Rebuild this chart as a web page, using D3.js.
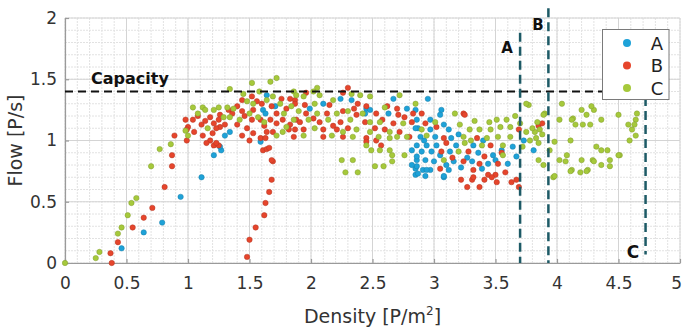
<!DOCTYPE html>
<html>
<head>
<meta charset="utf-8">
<script src="https://cdn.jsdelivr.net/npm/d3@7"></script>
<style>
  body { margin: 0; background: #fff; }
  svg { display: block; font-family: "DejaVu Sans", sans-serif; }
</style>
</head>
<body>
<div id="flow_plot"></div>
<script>
// data: [density, flow]
const pointsA = [
  [0.46,0.12],[0.64,0.25],[0.79,0.33],[0.94,0.54],[1.11,0.70],[1.21,0.88],[1.27,0.92],
  [1.30,1.04],[1.26,0.95],[1.34,1.07],[1.61,1.25],[1.63,1.22],[1.64,1.37],[1.71,1.28],[1.59,0.99],
  [1.99,1.26],[2.10,1.30],[2.24,1.34],[2.33,1.33],[2.45,1.26],[2.44,1.22],[2.48,1.25],[2.63,1.22],
  [2.67,1.34],[2.78,1.26],[2.85,1.25],[2.87,1.10],[2.95,1.34],[3.06,1.25],[3.05,1.21],
  [2.86,1.17],[2.97,1.17],[2.85,1.10],[2.97,1.09],[3.08,1.13],[3.12,1.09],[2.89,1.03],[3.01,1.03],
  [3.14,1.02],[3.73,1.00],[2.86,0.96],[2.94,0.96],[3.02,0.96],[3.18,0.96],[3.32,0.96],[3.64,0.95],
  [2.90,0.91],[2.98,0.91],[3.13,0.91],[3.36,0.90],[3.48,0.88],[3.67,0.87],[2.86,0.84],[2.93,0.84],
  [3.00,0.83],[3.16,0.83],[3.31,0.83],[3.44,0.81],[3.60,0.81],[2.85,0.77],[2.91,0.76],[2.97,0.76],
  [3.12,0.76],[3.39,0.77],[2.85,0.72],[3.08,0.70],[2.86,0.87],[2.86,0.79],[2.87,0.73],[2.93,0.71],
  [3.08,0.71],[2.94,0.76],[3.81,0.92],[3.20,1.05],[3.05,0.88],[3.27,0.86],[3.55,0.92],[3.40,1.00],
  [2.92,1.00],[3.10,0.80],[3.22,0.78],[3.50,0.84],[2.82,0.92],[2.82,0.80]
];
const pointsB = [
  [0.38,0.00],[0.37,0.08],[0.43,0.17],[0.55,0.29],[0.64,0.37],[0.71,0.45],[0.81,0.62],[0.87,0.79],
  [0.87,0.88],[0.89,1.04],[0.99,1.00],
  [1.48,0.05],[1.50,0.19],[1.55,0.29],[1.62,0.39],[1.63,0.49],[1.66,0.58],[1.68,0.68],[1.69,0.83],
  [1.61,0.92],[1.64,0.93],[1.66,0.94],
  [0.98,1.17],[1.00,1.11],[1.05,1.07],[1.04,1.17],[0.99,1.09],[1.11,1.13],[1.12,1.04],[1.20,1.06],
  [1.21,0.96],[1.25,0.96],[1.18,1.00],[1.18,1.19],[1.21,1.14],[1.26,1.21],[1.26,1.11],[1.15,0.98],
  [1.23,0.98],[1.25,1.17],[1.23,1.10],[1.30,1.13],[1.33,1.25],[1.36,1.22],[1.08,1.20],[1.14,1.16],
  [1.40,1.28],[1.44,1.33],[1.52,1.36],[1.44,1.24],[1.53,1.25],[1.60,1.30],[1.68,1.28],[1.80,1.26],
  [1.76,1.34],[1.87,1.33],[1.52,1.17],[1.59,1.17],[1.40,1.13],[1.48,1.10],[1.67,1.17],[1.72,1.14],
  [1.77,1.17],[1.83,1.13],[1.88,1.17],[1.64,1.07],[1.69,1.07],[1.53,1.06],[1.44,1.04],[1.50,1.00],
  [1.59,1.02],[1.63,1.02],[1.82,1.09],[1.68,0.84],[1.46,1.20],[1.56,1.32],[1.72,1.22],[1.62,1.12],
  [1.83,1.34],[1.96,1.39],[1.87,1.30],[1.95,1.29],[2.15,1.29],[2.30,1.43],[2.26,1.39],[2.38,1.30],
  [2.45,1.28],[2.62,1.28],[2.70,1.26],[1.96,1.22],[2.13,1.22],[2.26,1.24],[2.37,1.21],[2.53,1.22],
  [2.71,1.21],[2.76,1.19],[1.91,1.15],[2.07,1.15],[2.24,1.15],[2.44,1.15],[2.67,1.14],[1.87,1.09],
  [1.94,1.09],[2.10,1.09],[2.21,1.09],[2.30,1.10],[2.52,1.10],[2.60,1.09],[2.72,1.07],[1.86,1.03],
  [2.10,1.03],[2.26,1.03],[2.45,1.02],[2.53,1.00],[2.45,0.99],[2.57,0.96],[2.02,1.18],[2.18,1.12],
  [2.35,1.26],[2.58,1.17],[2.82,1.15],
  [2.83,1.22],[2.90,1.22],[3.24,1.22],[2.93,1.14],[3.02,1.11],[2.80,1.03],[3.08,1.02],[3.35,1.02],
  [3.69,1.09],[3.10,0.98],[3.46,0.96],[3.06,0.91],[3.28,0.91],[3.41,0.87],[3.24,0.83],[3.37,0.81],
  [3.52,0.81],[3.05,0.77],[3.32,0.76],[3.44,0.72],[3.50,0.72],[3.22,0.68],[3.31,0.68],[3.41,0.68],
  [3.67,0.68],[3.27,0.62],[3.37,0.62],[3.51,0.66],[3.63,0.66],[3.69,0.62],[3.32,0.70],[3.47,0.70],
  [3.25,1.21],[3.85,1.12],[3.88,1.14],[3.58,0.74],[3.15,0.86],[3.55,0.90]
];
const pointsC = [
  [0.00,0.00],[0.25,0.04],[0.28,0.09],[0.43,0.24],[0.46,0.29],[0.51,0.39],[0.54,0.49],[0.58,0.53],
  [0.70,0.79],[0.77,0.93],[0.86,0.97],[0.98,1.08],
  [1.04,1.27],[1.12,1.27],[1.25,1.27],[1.32,1.27],[1.08,1.22],[1.21,1.25],[1.14,1.25],[1.29,1.19],
  [1.34,1.19],[1.37,1.26],[1.34,1.42],[1.00,1.04],[1.16,1.10],
  [1.52,1.47],[1.67,1.48],[1.72,1.51],[1.48,1.32],[1.64,1.33],[1.75,1.30],[1.84,1.28],[1.69,1.36],
  [1.42,1.17],[1.80,1.11],[1.72,1.04],[1.77,1.07],[1.53,1.30],[1.57,1.19],[1.58,1.40],[1.45,1.38],
  [1.62,1.15],[1.78,1.22],[1.90,1.24],[1.50,1.22],[1.86,1.40],
  [2.05,1.43],[2.02,1.40],[2.33,1.38],[2.40,1.37],[2.48,1.36],[2.72,1.37],[1.88,1.37],[1.94,1.36],
  [2.07,1.37],[2.03,1.30],[2.18,1.33],[2.05,1.22],[2.21,1.22],[2.30,1.24],[1.86,1.17],[1.98,1.17],
  [2.14,1.17],[2.32,1.17],[2.48,1.15],[2.56,1.15],[2.75,1.14],[2.03,1.10],[2.26,1.07],[2.37,1.09],
  [2.48,1.07],[2.64,1.07],[1.94,1.04],[2.17,1.04],[2.34,1.03],[2.55,1.03],[2.64,1.02],[2.70,1.03],
  [2.78,1.03],[2.45,0.96],[2.49,0.92],[2.56,0.92],[2.64,0.92],[2.66,0.88],[2.76,0.88],[2.25,0.84],
  [2.34,0.84],[2.28,0.74],[2.38,0.74],[2.52,0.79],[2.59,0.79],[2.66,0.83],[2.60,1.27],[2.85,1.30],
  [2.42,1.22],
  [3.17,1.22],[3.01,1.15],[2.90,1.09],[3.21,1.13],[3.29,1.09],[3.37,1.09],[3.46,1.09],[3.54,1.11],
  [3.62,1.11],[3.75,1.07],[3.82,1.07],[3.51,1.17],[3.59,1.17],[3.77,1.29],[2.94,1.04],[3.24,1.03],
  [3.43,1.02],[3.52,1.03],[3.62,1.03],[3.78,1.00],[3.25,0.98],[3.39,0.96],[3.56,0.96],[3.20,0.91],
  [3.56,0.88],[3.08,0.84],[3.70,1.14],[3.66,1.20],[3.45,1.15],[3.33,1.16],[3.72,0.95],[3.30,1.00],
  [3.75,1.30],[3.90,1.22],[4.04,1.30],[4.13,1.18],[4.20,1.25],[4.30,1.25],[4.24,1.21],[4.50,1.21],
  [4.65,1.22],[4.64,1.17],[4.12,1.17],[4.02,1.17],[4.36,1.17],[4.15,1.13],[4.21,1.13],[4.27,1.13],
  [4.58,1.13],[4.63,1.13],[4.61,1.09],[4.64,1.04],[4.59,1.00],[4.11,1.00],[4.36,0.92],[4.41,0.92],
  [4.51,0.88],[4.08,0.88],[4.20,0.84],[4.29,0.84],[4.43,0.84],[4.02,0.84],[3.85,0.84],[3.89,0.80],
  [4.36,0.80],[4.43,0.79],[4.12,0.76],[4.19,0.74],[4.25,0.76],[3.97,0.70],[3.89,1.21],[3.86,1.09],
  [3.98,0.99],[3.94,0.92],[4.32,0.95],[4.50,0.88],[4.07,0.83],[3.98,0.71],[4.11,0.75],[4.24,0.75],
  [4.30,0.83],[3.83,1.02],[3.85,0.98],[3.88,1.05],[3.80,1.10],[3.84,1.15],[4.28,1.28]
];
const seriesNames = ["A", "B", "C"];
const seriesColors = ["#1ea2d8", "#e6452c", "#a6c93b"];
const xTicks = [0, 0.5, 1, 1.5, 2, 2.5, 3, 3.5, 4, 4.5, 5];
const yTicks = [0, 0.5, 1, 1.5, 2];
const capacityFlow = 1.4;
const limitNames = ["A", "B", "C"];
const limitDensity = [3.70, 3.93, 4.72];

// set the dimensions and margins of the graph
const W = 682, H = 331;
const margin = { top: 18, right: 2, bottom: 68, left: 65 };

const svg = d3.select("#flow_plot").append("svg")
  .attr("width", W).attr("height", H);

const x = d3.scaleLinear().domain([0, 5]).range([margin.left, W - margin.right]);
const y = d3.scaleLinear().domain([0, 2]).range([H - margin.bottom, margin.top]);

// grid: minor every 0.1, major every 0.5
const minorX = d3.range(0, 50.5).map((i) => i / 10);
const minorY = d3.range(0, 20.5).map((i) => i / 10);
const grid = svg.append("g");
grid.selectAll(".mx").data(minorX).join("line")
  .attr("x1", (d) => x(d)).attr("x2", (d) => x(d))
  .attr("y1", y(0)).attr("y2", y(2))
  .attr("stroke", "#e2e2e2").attr("stroke-dasharray", "2,1");
grid.selectAll(".my").data(minorY).join("line")
  .attr("x1", x(0)).attr("x2", x(5))
  .attr("y1", (d) => y(d)).attr("y2", (d) => y(d))
  .attr("stroke", "#e2e2e2").attr("stroke-dasharray", "2,1");
grid.selectAll(".Mx").data(xTicks).join("line")
  .attr("x1", (d) => x(d)).attr("x2", (d) => x(d))
  .attr("y1", y(0)).attr("y2", y(2))
  .attr("stroke", "#d4d4d4");
grid.selectAll(".My").data(yTicks).join("line")
  .attr("x1", x(0)).attr("x2", x(5))
  .attr("y1", (d) => y(d)).attr("y2", (d) => y(d))
  .attr("stroke", "#d4d4d4");

// axes
const xAxis = svg.append("g")
  .attr("transform", `translate(0, ${y(0)})`)
  .call(d3.axisBottom(x).tickValues(xTicks).tickSizeInner(-4).tickSizeOuter(0).tickPadding(14)
    .tickFormat(d3.format("~g")));
const yAxis = svg.append("g")
  .attr("transform", `translate(${x(0)}, 0)`)
  .call(d3.axisLeft(y).tickValues(yTicks).tickSizeInner(-4).tickSizeOuter(0).tickPadding(8)
    .tickFormat(d3.format("~g")));
[xAxis, yAxis].forEach((a) => {
  a.select(".domain").attr("stroke", "#9a9a9a").attr("stroke-width", 1.2);
  a.selectAll(".tick line").attr("stroke", "#9a9a9a").attr("stroke-width", 1.2);
  a.selectAll(".tick text").attr("fill", "#333").style("font-size", "17px")
    .style("font-family", "DejaVu Sans");
});
// last x label sits at the window edge: keep it inside
xAxis.selectAll(".tick text").filter((d) => d === 5)
  .attr("text-anchor", "end").attr("dx", 1.5);

// scatter points, A first so C ends on top
const allSeries = [pointsA, pointsB, pointsC];
allSeries.forEach((pts, i) => {
  svg.append("g").selectAll("circle").data(pts).join("circle")
    .attr("cx", (d) => x(d[0]))
    .attr("cy", (d) => y(d[1]))
    .attr("r", 2.7)
    .attr("fill", seriesColors[i])
    .attr("stroke", d3.color(seriesColors[i]).darker(0.7))
    .attr("stroke-width", 0.5);
});

// capacity line
svg.append("line")
  .attr("x1", x(0)).attr("x2", x(4.45))
  .attr("y1", y(capacityFlow)).attr("y2", y(capacityFlow))
  .attr("stroke", "#111").attr("stroke-width", 2).attr("stroke-dasharray", "8,5");
svg.append("text")
  .attr("x", 91).attr("y", y(capacityFlow) - 8)
  .style("font-size", "16px").style("font-weight", "bold").attr("fill", "#111")
  .text("Capacity");

// vertical limits (extent in flow units) and their labels
const limitTop = [1.88, 2.08, 1.355];
const limitBottom = [0, 0, 0.07];
const limitLabelPos = [[507, 53], [538, 30], [633, 258]];
limitDensity.forEach((d, i) => {
  svg.append("line")
    .attr("x1", x(d)).attr("x2", x(d))
    .attr("y1", y(limitTop[i])).attr("y2", y(limitBottom[i]))
    .attr("stroke", "#1d5a66").attr("stroke-width", 2.5).attr("stroke-dasharray", "9,5");
  svg.append("text")
    .attr("x", limitLabelPos[i][0]).attr("y", limitLabelPos[i][1])
    .attr("text-anchor", "middle")
    .style("font-size", i === 2 ? "17px" : "15px").style("font-weight", "bold").attr("fill", "#111")
    .text(limitNames[i]);
});

// Handmade legend
const lg = svg.append("g");
lg.append("rect")
  .attr("x", 602.5).attr("y", 29.5).attr("width", 66.5).attr("height", 70)
  .attr("fill", "#fff").attr("stroke", "#7a7a7a").attr("stroke-width", 1);
seriesNames.forEach((n, i) => {
  lg.append("circle").attr("cx", 627).attr("cy", 43 + i * 22.5).attr("r", 4)
    .attr("fill", seriesColors[i]);
  lg.append("text").attr("x", 657).attr("y", 43 + i * 22.5)
    .attr("text-anchor", "middle").attr("dominant-baseline", "central")
    .style("font-size", "18px").attr("fill", "#222").text(n);
});

// axis titles
svg.append("text")
  .attr("x", (x(0) + x(5)) / 2).attr("y", 323)
  .attr("text-anchor", "middle").style("font-size", "19px").attr("fill", "#333")
  .text("Density [P/m")
  .append("tspan").attr("dy", -8).style("font-size", "12px").text("2")
  .clone(true).attr("dy", 8).style("font-size", "19px").text("]");
svg.append("text")
  .attr("transform", `translate(22, ${(y(0) + y(2)) / 2}) rotate(-90)`)
  .attr("text-anchor", "middle").style("font-size", "19px").attr("fill", "#333")
  .text("Flow [P/s]");
</script>
</body>
</html>
